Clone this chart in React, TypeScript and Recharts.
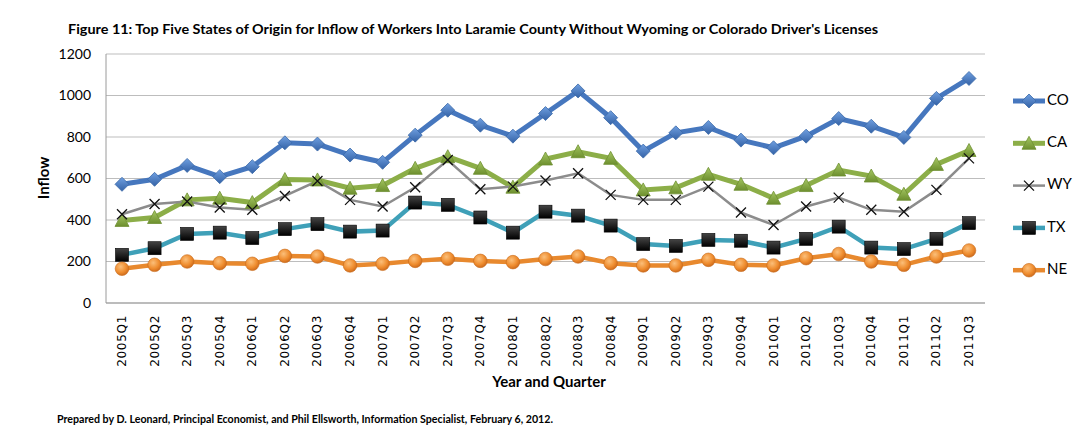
import { CartesianGrid, Line, LineChart, XAxis, YAxis } from "recharts";

const quarters = [
  "2005Q1", "2005Q2", "2005Q3", "2005Q4", "2006Q1", "2006Q2", "2006Q3", "2006Q4",
  "2007Q1", "2007Q2", "2007Q3", "2007Q4", "2008Q1", "2008Q2", "2008Q3", "2008Q4",
  "2009Q1", "2009Q2", "2009Q3", "2009Q4", "2010Q1", "2010Q2", "2010Q3", "2010Q4",
  "2011Q1", "2011Q2", "2011Q3",
];

const co = [572, 596, 663, 609, 657, 772, 766, 713, 678, 809, 929, 857, 804, 913, 1022, 893, 732, 820, 846, 785, 748, 804, 889, 852, 798, 986, 1082];
const ca = [398, 412, 497, 505, 484, 595, 593, 553, 566, 649, 705, 649, 558, 694, 729, 697, 545, 555, 620, 572, 505, 566, 641, 612, 524, 668, 735];
const wy = [428, 477, 489, 460, 449, 516, 588, 497, 465, 558, 689, 548, 561, 590, 625, 521, 497, 497, 561, 436, 376, 465, 508, 449, 440, 545, 697];
const tx = [232, 264, 333, 339, 313, 356, 380, 344, 349, 484, 473, 412, 339, 440, 421, 373, 284, 275, 304, 300, 267, 309, 368, 267, 260, 309, 385];
const ne = [165, 184, 200, 192, 189, 227, 224, 181, 189, 203, 213, 203, 197, 212, 224, 192, 181, 181, 208, 184, 181, 216, 236, 200, 184, 224, 253];

const yTicks = [0, 200, 400, 600, 800, 1000, 1200];

const data = quarters.map((q, i) => ({ q, CO: co[i], CA: ca[i], WY: wy[i], TX: tx[i], NE: ne[i] }));

type Kind = "diamond" | "triangle" | "x" | "square" | "circle";

const series: { key: string; color: string; width: number; kind: Kind }[] = [
  { key: "CO", color: "#4677be", width: 5, kind: "diamond" },
  { key: "CA", color: "#8cae48", width: 5, kind: "triangle" },
  { key: "WY", color: "#8c8c8c", width: 2.5, kind: "x" },
  { key: "TX", color: "#3fa0b8", width: 4.5, kind: "square" },
  { key: "NE", color: "#e8892e", width: 4.5, kind: "circle" },
];

const FONT = "Lato, 'Open Sans', sans-serif";

function marker(kind: Kind, cx: number, cy: number, key?: string) {
  switch (kind) {
    case "diamond":
      return (
        <path key={key} d={`M${cx},${cy - 7}L${cx + 7},${cy}L${cx},${cy + 7}L${cx - 7},${cy}Z`} fill="url(#gBlue)" stroke="#3b69a8" strokeWidth={0.8} />
      );
    case "triangle":
      return (
        <path key={key} d={`M${cx},${cy - 7}L${cx + 7},${cy + 6}L${cx - 7},${cy + 6}Z`} fill="url(#gGreen)" stroke="#6f8f32" strokeWidth={0.8} />
      );
    case "x":
      return (
        <path key={key} d={`M${cx - 5},${cy - 5}L${cx + 5},${cy + 5}M${cx + 5},${cy - 5}L${cx - 5},${cy + 5}`} stroke="#111" strokeWidth={1.3} fill="none" />
      );
    case "square":
      return <rect key={key} x={cx - 6.5} y={cy - 6.5} width={13} height={13} fill="url(#gBlack)" stroke="#000" strokeWidth={0.6} />;
    default:
      return <circle key={key} cx={cx} cy={cy} r={6.8} fill="url(#gOrange)" stroke="#c8691a" strokeWidth={0.6} />;
  }
}

function XTick(props: any) {
  const { x, y, payload } = props;
  const ty = y + 12;
  return (
    <text
      x={x}
      y={ty}
      transform={`rotate(-90, ${x}, ${ty})`}
      textAnchor="end"
      dominantBaseline="central"
      fontFamily="'DejaVu Sans', sans-serif"
      fontSize={12}
      letterSpacing={0.7}
      fill="#000"
    >
      {payload.value}
    </text>
  );
}

export default function App() {
  return (
    <div style={{ position: "absolute", left: 0, top: 0, width: 1090, height: 436, background: "#fff" }}>
      <LineChart width={1090} height={436} data={data} margin={{ top: 54, right: 105, bottom: 63, left: 56 }}>
        <defs>
          <linearGradient id="gBlue" x1="0" y1="0" x2="0" y2="1">
            <stop offset="0%" stopColor="#6f9fe0" />
            <stop offset="100%" stopColor="#3462a6" />
          </linearGradient>
          <linearGradient id="gGreen" x1="0" y1="0" x2="0" y2="1">
            <stop offset="0%" stopColor="#a6c864" />
            <stop offset="100%" stopColor="#6d8f2e" />
          </linearGradient>
          <linearGradient id="gBlack" x1="0" y1="0" x2="0" y2="1">
            <stop offset="0%" stopColor="#444" />
            <stop offset="100%" stopColor="#000" />
          </linearGradient>
          <radialGradient id="gOrange" cx="0.4" cy="0.35" r="0.7">
            <stop offset="0%" stopColor="#fbbf7a" />
            <stop offset="60%" stopColor="#ef8d2f" />
            <stop offset="100%" stopColor="#c9661a" />
          </radialGradient>
        </defs>
        <CartesianGrid vertical={false} stroke="#bdbdbd" strokeWidth={1} />
        <XAxis
          dataKey="q"
          interval={0}
          height={70}
          padding={{ left: 16, right: 16 }}
          tickLine={false}
          tickSize={0}
          tickMargin={0}
          axisLine={{ stroke: "#9a9a9a" }}
          tick={<XTick />}
        />
        <YAxis
          domain={[0, 1200]}
          ticks={yTicks}
          width={50}
          tickLine={false}
          tickSize={0}
          tickMargin={15}
          axisLine={{ stroke: "#9a9a9a" }}
          tick={{ fontFamily: FONT, fontSize: 14, fill: "#000" }}
        />
        {series.map((s) => (
          <Line
            key={s.key}
            dataKey={s.key}
            stroke={s.color}
            strokeWidth={s.width}
            isAnimationActive={false}
            dot={(p: any) => marker(s.kind, p.cx, p.cy, `${s.key}-${p.index}`)}
            activeDot={false}
          />
        ))}
      </LineChart>
      <svg width={1090} height={436} style={{ position: "absolute", left: 0, top: 0, pointerEvents: "none" }}>
        <text x={68} y={30} fontFamily={FONT} fontWeight={700} fontSize={14} dominantBaseline="middle" textLength={810} lengthAdjust="spacingAndGlyphs">
          Figure 11: Top Five States of Origin for Inflow of Workers Into Laramie County Without Wyoming or Colorado Driver's Licenses
        </text>
        <text x={45} y={178} transform="rotate(-90, 45, 178)" textAnchor="middle" dominantBaseline="middle" fontFamily={FONT} fontWeight={700} fontSize={15}>
          Inflow
        </text>
        <text x={549} y={383} textAnchor="middle" dominantBaseline="middle" fontFamily={FONT} fontWeight={700} fontSize={15}>
          Year and Quarter
        </text>
        <text x={57} y={420} fontFamily={FONT} fontWeight={700} fontSize={10.5} dominantBaseline="middle" textLength={496} lengthAdjust="spacingAndGlyphs">
          Prepared by D. Leonard, Principal Economist, and Phil Ellsworth, Information Specialist, February 6, 2012.
        </text>
        {series.map((s, i) => {
          const y = 101 + i * 42.3;
          return (
            <g key={s.key}>
              <line x1={1013} x2={1045} y1={y} y2={y} stroke={s.color} strokeWidth={s.width} />
              {marker(s.kind, 1029, y)}
              <text x={1047} y={y} dominantBaseline="middle" fontFamily={FONT} fontSize={15}>
                {s.key}
              </text>
            </g>
          );
        })}
      </svg>
    </div>
  );
}
